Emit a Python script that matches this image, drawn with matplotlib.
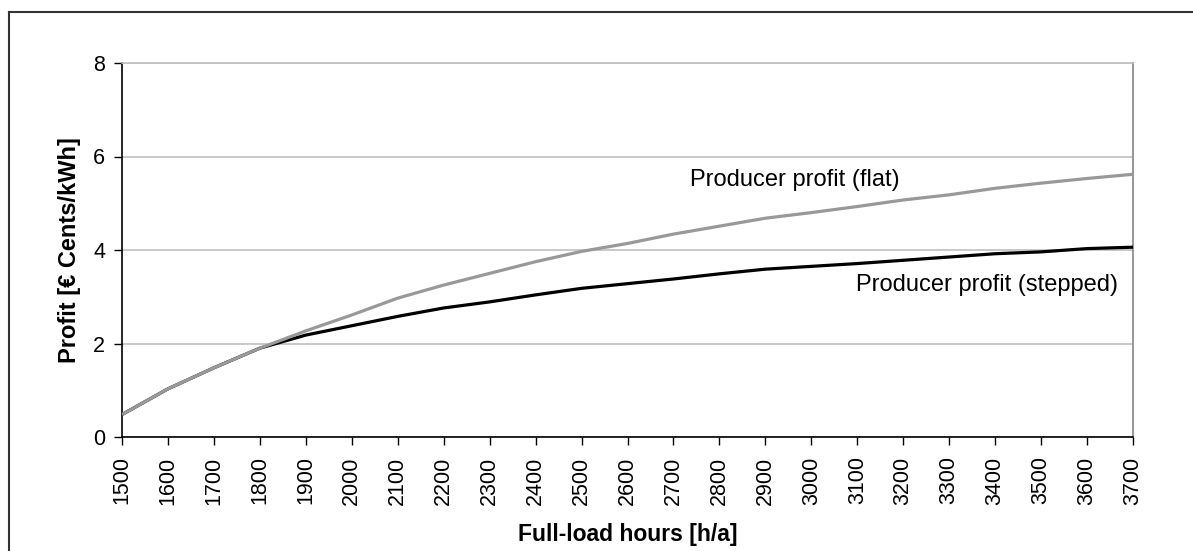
import matplotlib
matplotlib.use("Agg")
import matplotlib.pyplot as plt
from matplotlib.lines import Line2D

plt.rcParams['font.family'] = ['Liberation Sans', 'DejaVu Sans']

hours = [1500, 1600, 1700, 1800, 1900, 2000, 2100, 2200, 2300, 2400, 2500, 2600,
         2700, 2800, 2900, 3000, 3100, 3200, 3300, 3400, 3500, 3600, 3700]
flat = [0.48, 1.03, 1.48, 1.90, 2.27, 2.61, 2.97, 3.25, 3.50, 3.75, 3.97, 4.14,
        4.34, 4.51, 4.68, 4.80, 4.93, 5.07, 5.18, 5.32, 5.43, 5.53, 5.62]
stepped = [0.48, 1.03, 1.48, 1.90, 2.18, 2.38, 2.58, 2.76, 2.89, 3.04, 3.18, 3.28,
           3.38, 3.49, 3.59, 3.65, 3.71, 3.78, 3.85, 3.92, 3.96, 4.03, 4.06]
yticks = [0, 2, 4, 6, 8]

W, H = 1193, 551
fig = plt.figure(figsize=(W / 100, H / 100), dpi=100)
ax = fig.add_axes([122 / W, 1 - 437 / H, (1133 - 122) / W, (437 - 63) / H])

ax.plot(hours, stepped, color='black', lw=2.3, solid_capstyle='butt', zorder=3)
ax.plot(hours, flat, color='#999999', lw=2.3, solid_capstyle='butt', zorder=4)

ax.set_xlim(1500, 3700)
ax.set_ylim(0, 8)
ax.set_xticks(hours)
ax.set_xticklabels([str(h) for h in hours], rotation=90, fontsize=15.5)
ax.set_yticks(yticks)
ax.set_yticklabels([str(v) for v in yticks], fontsize=15.5)
ax.yaxis.grid(True, color='#c0c0c0', lw=1.2)
ax.set_axisbelow(True)
ax.tick_params(axis='both', direction='out', length=6, width=1, colors='black', pad=6)
ax.tick_params(axis='x', pad=8)
for s in ['left', 'bottom']:
    ax.spines[s].set_color('black')
    ax.spines[s].set_linewidth(1.2)
ax.spines['right'].set_color('#999999')
ax.spines['right'].set_linewidth(1.5)
ax.spines['top'].set_color('#c0c0c0')
ax.spines['top'].set_linewidth(1.2)

ax.set_xlabel('Full-load hours [h/a]', fontsize=16.5, fontweight='bold', labelpad=13)
ax.set_ylabel('Profit [€ Cents/kWh]', fontsize=17, fontweight='bold', labelpad=9)

ax.text(2736, 5.5, 'Producer profit (flat)', fontsize=17, ha='left', va='center')
ax.text(3097, 3.25, 'Producer profit (stepped)', fontsize=17, ha='left', va='center')

# outer frame (extends past right/bottom edges)
x0, y0 = 8.5 / W, 1 - 11.5 / H
fig.add_artist(Line2D([x0, x0], [y0, -0.05], color='#333333', lw=1.5, transform=fig.transFigure))
fig.add_artist(Line2D([x0, 1.05], [y0, y0], color='#333333', lw=1.5, transform=fig.transFigure))

fig.savefig('out.png', dpi=100)
